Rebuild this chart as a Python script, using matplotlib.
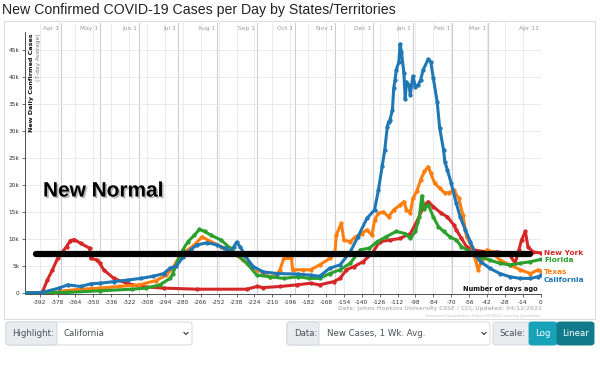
import matplotlib
matplotlib.use('Agg')
import matplotlib.pyplot as plt
import matplotlib.patheffects as pe
from matplotlib.patches import FancyBboxPatch, Rectangle
from matplotlib.lines import Line2D

# --- data (days before Apr 11 2021, new cases in thousands, 7-day avg) ---
ca_days = [-404, -390, -377, -370, -360, -352, -345, -334, -323, -313, -303, -295, -290, -285,
           -280, -274, -269, -261, -253, -248, -246, -243, -240, -238, -235, -231, -225, -217,
           -206, -190, -180, -173, -165, -157, -149, -143, -136, -130, -127, -124, -122, -120,
           -119, -118, -116, -115, -114, -113, -111, -110, -109, -107, -106, -105, -103, -102,
           -100, -98, -96, -94, -92, -88, -86, -84, -81, -79, -76, -75, -73, -70, -66, -63,
           -59, -55, -51, -47, -40, -32, -24, -16, -8, -2, 0]
ca_vals = [0, 0.1, 0.9, 1.5, 1.2, 1.7, 1.8, 2.1, 2.4, 2.7, 3.1, 3.6, 4.6, 5.0,
           6.6, 8.0, 8.9, 9.3, 8.9, 8.3, 8.3, 7.4, 8.6, 9.4, 8.5, 6.8, 4.9, 3.9,
           3.6, 3.5, 3.3, 3.1, 4.6, 5.2, 7.6, 10.4, 13.8, 15.4, 19.0, 23.5, 26.5, 30.8,
           31.7, 32.0, 33.9, 37.9, 39.4, 41.3, 42.8, 46.1, 44.7, 40.7, 35.9, 39.1, 38.5, 36.7,
           40.1, 38.2, 38.5, 39.4, 41.3, 43.3, 42.8, 39.8, 35.4, 30.5, 26.5, 24.3, 22.8, 20.3, 16.6, 14.1,
           11.7, 9.5, 7.0, 5.8, 4.6, 3.6, 3.0, 2.7, 2.7, 3.0, 3.3]

tx_days = [-404, -380, -373, -360, -345, -330, -314, -301, -293, -288, -282, -271, -265, -258,
           -250, -245, -240, -233, -222, -212, -207, -204, -201, -195, -194, -186, -180, -173,
           -165, -161, -160, -156, -154, -149, -145, -140, -136, -132, -130, -127, -123, -119,
           -115, -110, -107, -105, -102, -100, -97, -94, -91, -88, -86, -83, -79, -75,
           -72, -68, -64, -61, -58, -54, -51, -49, -46, -42, -38, -32, -24, -16, -8, -2, 0]
tx_vals = [0, 0.1, 0.4, 0.7, 0.9, 1.2, 1.5, 2.3, 3.3, 4.6, 7.0, 8.9, 10.4, 9.5,
           8.6, 8.0, 7.3, 6.1, 4.3, 3.0, 3.2, 4.3, 6.4, 6.4, 4.3, 4.3, 4.3, 5.2,
           6.4, 7.3, 10.7, 12.9, 9.8, 9.5, 10.4, 11.0, 11.7, 10.7, 13.5, 14.8, 15.0, 14.1,
           15.4, 16.3, 16.9, 15.4, 14.8, 17.5, 18.8, 20.9, 22.5, 23.4, 22.2, 20.3, 19.4, 18.5,
           18.6, 19.0, 17.5, 14.5, 10.4, 8.6, 6.1, 4.3, 6.1, 8.0, 7.6, 6.1, 5.2, 4.3, 3.6, 4.3, 4.0]

fl_days = [-404, -370, -345, -320, -309, -298, -290, -288, -284, -280, -276, -271, -267, -263,
           -258, -250, -243, -237, -230, -222, -212, -201, -190, -181, -173, -165, -157, -149,
           -141, -134, -128, -121, -113, -106, -102, -98, -95, -93, -91, -88, -84, -80,
           -76, -71, -66, -62, -55, -47, -40, -32, -24, -16, -8, 0]
fl_vals = [0, 0.1, 0.4, 0.7, 0.9, 1.5, 2.7, 3.5, 6.0, 8.0, 9.5, 10.7, 11.8, 11.4,
           10.7, 9.8, 8.3, 7.0, 5.5, 3.3, 3.0, 2.7, 3.0, 2.7, 2.7, 3.6, 4.3, 5.5,
           8.0, 8.3, 9.5, 10.4, 11.4, 11.0, 10.1, 11.4, 14.1, 18.0, 15.6, 16.3, 14.1, 12.3,
           11.4, 10.4, 9.8, 8.6, 7.6, 6.7, 6.1, 5.5, 5.2, 5.5, 5.8, 6.2]

ny_days = [-404, -390, -386, -382, -378, -371, -368, -365, -360, -353, -352, -347, -345, -342,
           -334, -324, -313, -295, -269, -230, -222, -217, -204, -191, -180, -173, -162, -157,
           -152, -146, -139, -132, -126, -118, -110, -102, -97, -91, -88, -84, -78, -73,
           -68, -66, -62, -58, -53, -42, -34, -25, -20, -17, -15, -12, -10, -6, 0]
ny_vals = [0, 0.1, 2.4, 4.3, 6.4, 8.6, 9.7, 9.9, 9.2, 8.3, 6.4, 6.1, 5.5, 4.3,
           2.7, 1.8, 1.2, 0.9, 0.7, 0.7, 1.2, 1.0, 1.2, 1.5, 1.8, 1.5, 2.1, 2.7,
           4.3, 4.9, 5.8, 7.3, 9.5, 9.8, 10.1, 11.0, 13.2, 16.3, 16.9, 16.0, 14.8, 14.1,
           12.6, 11.7, 10.1, 8.6, 8.0, 7.6, 7.6, 7.3, 5.5, 8.0, 9.8, 11.4, 8.6, 7.6, 7.4]

states = ['New York', 'Texas', 'Florida', 'California']
colors = ['#d62728', '#ff7f0e', '#2ca02c', '#1f77b4']
label_y = [253, 272.5, 260.5, 280.5]

day_ticks = list(range(-392, 1, 14))
y_ticks = [0, 5, 10, 15, 20, 25, 30, 35, 40, 45]
y_labels = ['0', '5k', '10k', '15k', '20k', '25k', '30k', '35k', '40k', '45k']
month_days = [-375, -345, -314, -284, -253, -222, -192, -161, -131, -100, -69, -41, 0]
month_labels = ['Apr 1', 'May 1', 'Jun 1', 'Jul 1', 'Aug 1', 'Sep 1', 'Oct 1',
                'Nov 1', 'Dec 1', 'Jan 1', 'Feb 1', 'Mar 1', 'Apr 11']

normal_level = 7.2
normal_span = [-395, -8]

W, H = 600, 384
fig = plt.figure(figsize=(6, 3.84), dpi=100)


def fx(x):
    return x / W


def fy(y):
    return 1 - y / H


# panel frame
fig.patches.append(Rectangle((fx(4), fy(319)), fx(591), fy(21) - fy(319), transform=fig.transFigure,
                             facecolor='none', edgecolor='#dddddd', lw=0.8, zorder=-5))

ax = fig.add_axes([fx(25), fy(294), fx(541) - fx(25), fy(23) - fy(294)])
ax.set_facecolor('none')
ax.set_xlim(-403.5, 0.25)
ax.set_ylim(-0.19, 50.0)

for d in day_ticks:
    ax.axvline(d, color='#e6e6ef', lw=0.6, zorder=0)
for d in month_days:
    ax.axvline(d, color='#cdcdd5', lw=0.8, zorder=0)
for v in y_ticks[1:]:
    ax.axhline(v, color='#e6e6ef', lw=0.6, zorder=0)

for d, lab in zip(month_days, month_labels):
    ax.text(d - 1.5, 49.0, lab, ha='right', va='center', fontsize=4.3, color='#9a9a9a')

series = [(ny_days, ny_vals), (tx_days, tx_vals), (fl_days, fl_vals), (ca_days, ca_vals)]
for (days, vals), c in zip(series, colors):
    ax.plot(days, vals, color=c, lw=2.2, marker='o', ms=2.1, zorder=3)

ax.plot(normal_span, [normal_level, normal_level], color='black', lw=4.5,
        solid_capstyle='round', zorder=6)

ax.set_xticks(day_ticks)
ax.set_xticklabels([str(d) for d in day_ticks])
ax.set_yticks(y_ticks)
ax.set_yticklabels(y_labels)
ax.tick_params(axis='both', labelsize=4.2, colors='#333333', length=2.5, width=0.5, pad=1.5)
for s in ['top', 'right']:
    ax.spines[s].set_visible(False)
ax.spines['left'].set_bounds(0, 48.4)
for s in ['left', 'bottom']:
    ax.spines[s].set_color('#333333')
    ax.spines[s].set_linewidth(0.6)

# axis label inside plot
fig.text(fx(31.5), fy(33), 'New Daily Confirmed Cases', rotation=90, ha='center', va='top',
         fontsize=4.6, fontweight='bold', color='#111111')
fig.text(fx(38.5), fy(33), '(7-day Average)', rotation=90, ha='center', va='top',
         fontsize=4.2, color='#777777')

# end labels
for name, c, y in zip(states, colors, label_y):
    fig.text(fx(544), fy(y), name, ha='left', va='center', fontsize=5.3,
             fontweight='bold', color=c)

fig.text(fx(538), fy(288.5), 'Number of days ago', ha='right', va='center',
         fontsize=4.8, fontweight='bold', color='#111111')

fig.text(fx(542), fy(308.5), 'Data: Johns Hopkins University CSSE / CCI; Updated: 04/12/2021',
         ha='right', va='center', fontsize=4.1, fontweight='bold', color='#c0c0c0')
fig.text(fx(542), fy(315.5), 'Interactive Visualization: https://91-DIVOC.com/ by @profwade_',
         ha='right', va='center', fontsize=2.6, color='#c0c0c0')

# title
fig.text(fx(2), fy(10), 'New Confirmed COVID-19 Cases per Day by States/Territories',
         ha='left', va='center', fontsize=10.2, color='#222222', family='Liberation Sans')

# New Normal annotation
fig.text(fx(43), fy(191), 'New Normal', ha='left', va='center', fontsize=15,
         fontweight='bold', family='Liberation Sans', color='black', zorder=10,
         path_effects=[pe.SimplePatchShadow(offset=(1.2, -1.2), shadow_rgbFace='#888888', alpha=0.6),
                       pe.Normal()])

# bottom controls


def box(x0, x1, fc, ec='#ced4da', y0=322, y1=345):
    fig.patches.append(FancyBboxPatch((fx(x0), fy(y1)), fx(x1 - x0), fy(y0) - fy(y1),
                                      boxstyle='round,pad=0,rounding_size=0.006',
                                      transform=fig.transFigure, facecolor=fc,
                                      edgecolor=ec, lw=0.6))


def chevron(x, y):
    fig.lines.append(Line2D([fx(x - 2), fx(x), fx(x + 2)], [fy(y - 1), fy(y + 1), fy(y - 1)],
                            transform=fig.transFigure, color='#333333', lw=0.8))


box(6, 192, 'white')
box(6, 57, '#e9ecef')
fig.text(fx(12), fy(333.5), 'Highlight:', ha='left', va='center', fontsize=6.2, color='#495057')
fig.text(fx(64), fy(333.5), 'California', ha='left', va='center', fontsize=6.2, color='#495057')
chevron(186, 333.5)

box(287, 490, 'white')
box(287, 319, '#e9ecef')
fig.text(fx(294), fy(333.5), 'Data:', ha='left', va='center', fontsize=6.2, color='#495057')
fig.text(fx(327), fy(333.5), 'New Cases, 1 Wk. Avg.', ha='left', va='center', fontsize=6.2,
         color='#495057')
chevron(484, 333.5)

box(493, 594, '#e9ecef')
box(529, 557, '#17a2b8', ec='#17a2b8')
box(557, 594, '#117a8b', ec='#117a8b')
fig.text(fx(499), fy(333.5), 'Scale:', ha='left', va='center', fontsize=6.2, color='#495057')
fig.text(fx(543), fy(333.5), 'Log', ha='center', va='center', fontsize=6.2, color='white')
fig.text(fx(575.5), fy(333.5), 'Linear', ha='center', va='center', fontsize=6.2, color='white')

fig.savefig('out.png', dpi=100)
